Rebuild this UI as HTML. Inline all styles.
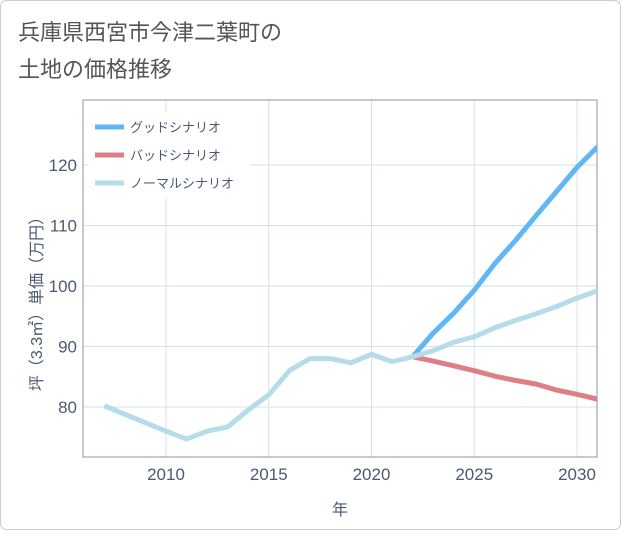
<!DOCTYPE html>
<html><head><meta charset="utf-8"><style>
body{margin:0;background:#fff;}
svg{font-family:"Liberation Sans","Noto Sans CJK JP",sans-serif;}
</style></head><body>
<svg width="621" height="530" viewBox="0 0 621 530">
<rect x="0.5" y="0.5" width="620" height="529" rx="6" fill="#fff" stroke="#ccc"/>
<text x="18" y="40" font-size="22" fill="#555">兵庫県西宮市今津二葉町の</text>
<text x="18" y="77" font-size="22" fill="#555">土地の価格推移</text>
<g id="grid"></g>
<rect x="88" y="112" width="162" height="86" fill="#fff"/>
<rect x="83" y="100" width="514" height="357" fill="none" stroke="#8a96a3" stroke-width="1"/>
<g id="series"></g>
<g id="ticks"></g>
<text x="340" y="515" font-size="16" fill="#4a5a72" text-anchor="middle">年</text>
<text transform="translate(42,300) rotate(-90)" font-size="16" fill="#4a5a72" text-anchor="middle">坪（3.3㎡）単価（万円）</text>
<g>
<line x1="95" y1="127" x2="124" y2="127" stroke="#5fb7f5" stroke-width="5"/>
<text x="130" y="132" font-size="13" fill="#4a5a72">グッドシナリオ</text>
<line x1="95" y1="155" x2="124" y2="155" stroke="#dd7f85" stroke-width="5"/>
<text x="130" y="160" font-size="13" fill="#4a5a72">バッドシナリオ</text>
<line x1="95" y1="183" x2="124" y2="183" stroke="#b6dcea" stroke-width="5"/>
<text x="130" y="188" font-size="13" fill="#4a5a72">ノーマルシナリオ</text>
</g>
</svg>
<script>
const years=[2007,2008,2009,2010,2011,2012,2013,2014,2015,2016,2017,2018,2019,2020,2021,2022,2023,2024,2025,2026,2027,2028,2029,2030,2031];
const normalValues=[80.2,78.8,77.4,76,74.7,76,76.7,79.5,82,86,88,88,87.3,88.7,87.5,88.3,89.3,90.7,91.6,93.1,94.3,95.4,96.6,98,99.2];
const futureYears=[2022,2023,2024,2025,2026,2027,2028,2029,2030,2031];
const goodValues=[88.3,92.2,95.5,99.3,103.7,107.5,111.6,115.6,119.6,123];
const badValues=[88.3,87.6,86.8,86,85.1,84.4,83.8,82.8,82.1,81.3];
const xTicks=[2010,2015,2020,2025,2030];
const yTicks=[80,90,100,110,120];
const X0=83,X1=597,Y0=100,Y1=457;
const xs=y=>166+(y-2010)*20.55;
const ys=v=>407-(v-80)*6.05;
const NS='http://www.w3.org/2000/svg';
const grid=document.getElementById('grid'),ticks=document.getElementById('ticks'),ser=document.getElementById('series');
function mk(tag,attrs,parent){const e=document.createElementNS(NS,tag);for(const k in attrs)e.setAttribute(k,attrs[k]);parent.appendChild(e);return e;}
xTicks.forEach(t=>{
 const l=mk('line',{x1:xs(t),x2:xs(t),y1:Y0,y2:Y1,stroke:'#d5e2ec','stroke-width':1},grid);
 
 
 const tx=mk('text',{x:xs(t),y:480,'font-size':17,fill:'#4a5a72','text-anchor':'middle'},ticks);
 tx.textContent=t;
 
 
});
yTicks.forEach(t=>{
 const l=mk('line',{x1:X0,x2:X1,y1:ys(t),y2:ys(t),stroke:'#d5e2ec','stroke-width':1},grid);
 
 
 const tx=mk('text',{x:77,y:ys(t)+6,'font-size':17,fill:'#4a5a72','text-anchor':'end'},ticks);
 tx.textContent=t;
 
 
});
function line(xv,yv,color,name){
 const p=mk('polyline',{points:xv.map((x,i)=>xs(x)+','+ys(yv[i])).join(' '),fill:'none',stroke:color,'stroke-width':5,'stroke-linejoin':'round','clip-path':'url(#clip)'},ser);
 
 
}
const defs=mk('defs',{},ser);const cp=mk('clipPath',{id:'clip'},defs);mk('rect',{x:X0,y:Y0,width:X1-X0,height:Y1-Y0},cp);
line(futureYears,badValues,'#dd7f85','bad-scenario-line');
line(futureYears,goodValues,'#5fb7f5','good-scenario-line');
line(years,normalValues,'#b6dcea','normal-scenario-line');
</script>
</body></html>
